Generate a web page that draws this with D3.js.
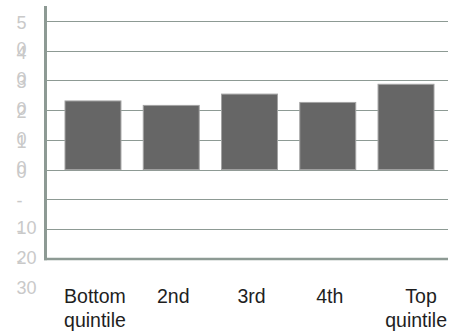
<!DOCTYPE html>
<html>
<head>
<meta charset="utf-8">
<script src="https://cdn.jsdelivr.net/npm/d3@7"></script>
<style>
  html, body { margin: 0; padding: 0; background: #fff; }
  svg { display: block; }
</style>
</head>
<body>
<svg id="chart" width="457" height="333"></svg>
<script>
// Share of income change by quintile
const categories = ["Bottom quintile", "2nd", "3rd", "4th", "Top quintile"];
const values = [23.1, 21.6, 25.4, 22.6, 28.7];
const xLabelLines = [["Bottom", "quintile"], ["2nd"], ["3rd"], ["4th"], ["Top", "quintile"]];
const yTicks = [-30, -20, -10, 0, 10, 20, 30, 40, 50];
const yTickLabelLines = [["-", "30"], ["-", "20"], ["-", "10"], ["0"], ["1", "0"], ["2", "0"], ["3", "0"], ["4", "0"], ["5", "0"]];

const svg = d3.select("#chart");
const plot = { left: 47, right: 448, top: 6, bottom: 259 };

const y = d3.scaleLinear().domain([-30, 55]).range([plot.bottom, plot.top]);
const x = d3.scaleBand()
  .domain(categories)
  .range([plot.left, 452])
  .paddingInner(0.285)
  .paddingOuter(0.23);

const axisColor = "#8d9a94";
const font = "'Liberation Sans', Arial, Helvetica, sans-serif";

// horizontal grid
const grid = svg.append("g")
  .attr("transform", `translate(${plot.left},0)`)
  .call(d3.axisLeft(y)
    .tickValues(yTicks.filter(v => v > -30))
    .tickSize(-(plot.right - plot.left))
    .tickFormat(""));
grid.select(".domain").remove();
grid.selectAll(".tick line")
  .attr("stroke", axisColor)
  .attr("stroke-width", 1)
  .attr("shape-rendering", "crispEdges");

// bars
svg.append("g")
  .selectAll("rect")
  .data(categories)
  .join("rect")
  .attr("x", d => x(d))
  .attr("width", x.bandwidth())
  .attr("y", (d, i) => y(values[i]))
  .attr("height", (d, i) => y(0) - y(values[i]))
  .attr("fill", "#666666")
  .attr("stroke", "#a3a3a3")
  .attr("stroke-width", 1);

// axis lines
svg.append("line")
  .attr("x1", plot.left - 1.5).attr("x2", plot.left - 1.5)
  .attr("y1", plot.top).attr("y2", plot.bottom + 1.2)
  .attr("stroke", axisColor).attr("stroke-width", 3);
svg.append("line")
  .attr("x1", plot.left - 3).attr("x2", plot.right)
  .attr("y1", plot.bottom).attr("y2", plot.bottom)
  .attr("stroke", axisColor).attr("stroke-width", 2.5);

// y tick labels (wrapped in a narrow column)
const yLab = svg.append("g")
  .selectAll("text")
  .data(yTicks)
  .join("text")
  .attr("font-family", font)
  .attr("font-size", 18)
  .attr("fill", "#c9c9c9")
  .attr("x", 16.5)
  .attr("y", d => y(d) + 8);
yLab.each(function (d, i) {
  const t = d3.select(this);
  yTickLabelLines[i].forEach((line, k) => {
    t.append("tspan")
      .attr("x", 16.5)
      .attr("y", y(d) + 8 + k * 26.5)
      .text(line);
  });
});

// x category labels
const lastIndex = categories.length - 1;
const xLab = svg.append("g")
  .selectAll("text")
  .data(categories)
  .join("text")
  .attr("font-family", font)
  .attr("font-size", 19.5)
  .attr("fill", "#1e1e1e")
  .attr("text-anchor", "middle");
xLab.each(function (d, i) {
  const t = d3.select(this);
  // the edge label is pushed outward, with its lines kept inside the frame
  const cx = x(d) + x.bandwidth() / 2 + (i === lastIndex ? 15 : 2);
  xLabelLines[i].forEach((line, k) => {
    const ts = t.append("tspan")
      .attr("x", cx)
      .attr("y", plot.bottom + 44 + k * 23.5)
      .text(line);
    const w = ts.node().getComputedTextLength();
    if (cx + w / 2 > plot.right - 1) ts.attr("x", plot.right - 1 - w / 2);
  });
});
</script>
</body>
</html>
